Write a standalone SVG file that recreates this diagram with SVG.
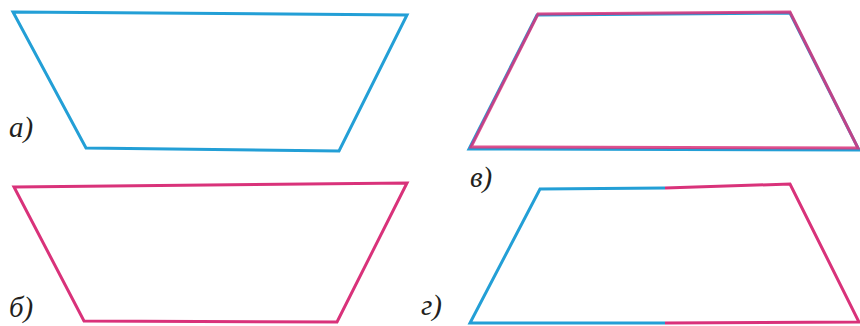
<svg xmlns="http://www.w3.org/2000/svg" width="860" height="326" viewBox="0 0 860 326">
<style>
.shape{fill:none;stroke-width:3;stroke-linejoin:miter;stroke-linecap:butt}
.blue{stroke:#239fd6}
.mag{stroke:#d9327a}
.ov{stroke:#d9327a;opacity:0.85}
.lbl{font-family:"Liberation Serif","Times New Roman",serif;font-style:italic;font-size:29px;fill:#231f20}
</style>
<rect width="860" height="326" fill="#ffffff"/>
<g id="fig-a">
<polygon class="shape blue" points="13,12 407,15 339,151 86,148"/>
<text class="lbl" x="9" y="137">а)</text>
</g>
<g id="fig-b">
<polygon class="shape mag" points="14,187 407,183 337,322 84,321"/>
<text class="lbl" x="9" y="317">б)</text>
</g>
<g id="fig-v">
<polygon class="shape blue" points="537,15 790,13 859,150 469,149"/>
<polygon class="shape ov" points="538,14 790,12 858,148 471,147"/>
<text class="lbl" x="470" y="187">в)</text>
</g>
<g id="fig-g">
<polyline class="shape blue" points="665,188 540,189 470,323 665,323"/>
<polyline class="shape mag" points="665,188 790,184 859,322 665,323"/>
<text class="lbl" x="421" y="315">г)</text>
</g>
</svg>
